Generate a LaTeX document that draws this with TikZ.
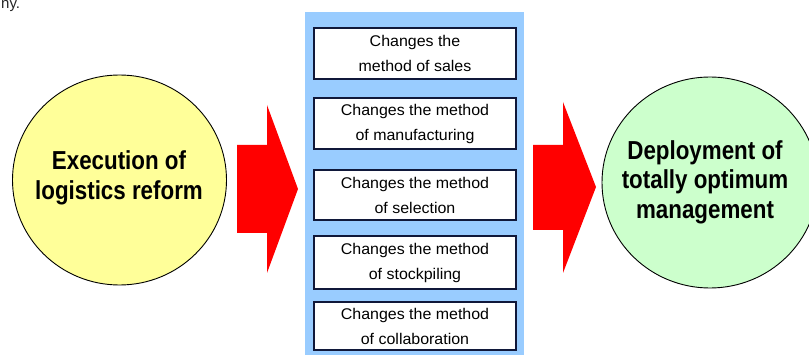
\documentclass[tikz,border=0pt]{standalone}
\usepackage{fontspec}
\setmainfont{Liberation Sans}
\newfontfamily\circfont{Liberation Sans}[FakeStretch=0.86]
\newfontfamily\boxfont{Liberation Sans}[FakeStretch=1.03]
\definecolor{panelblue}{HTML}{99CCFF}
\definecolor{circyellow}{HTML}{FFFF99}
\definecolor{circgreen}{HTML}{CCFFCC}
\definecolor{boxline}{HTML}{10183A}
\definecolor{arrowred}{HTML}{FF0000}
\tikzset{
  circ/.style={ellipse, draw=black, line width=0.9pt, inner sep=0pt, align=center},
  circtext/.style={align=center, inner sep=0pt, font=\circfont\bfseries\fontsize{26}{29.5}\selectfont},
  methodbox/.style={draw=boxline, line width=1.5pt, fill=white, minimum width=202pt,
    inner sep=0pt, align=center, font=\boxfont\fontsize{15.5}{25}\selectfont},
  bigarrow/.style={fill=arrowred, draw=none}
}
\usetikzlibrary{shapes.geometric}
\begin{document}
\begin{tikzpicture}[x=1pt,y=-1pt]
\useasboundingbox (0,0) rectangle (809,358);
\fill[white] (0,0) rectangle (809,358);
% cut-off text at top-left
\node[anchor=base west, inner sep=0pt, font=\fontsize{15}{18}\selectfont, text=black!85] (topfrag) at (1,9) {ny.};
% blue panel
\node[fill=panelblue, draw=none, minimum width=219pt, minimum height=343pt, inner sep=0pt] (panel) at (414.5,183.5) {};
% method boxes
\node[methodbox, minimum height=51pt] (b1) at (415,53.5) {Changes the\\method of sales};
\node[methodbox, minimum height=51pt] (b2) at (415,123.5) {Changes the method\\of manufacturing};
\node[methodbox, minimum height=50pt] (b3) at (415,195) {Changes the method\\of selection};
\node[methodbox, minimum height=53pt] (b4) at (415,262.5) {Changes the method\\of stockpiling};
\node[methodbox, minimum height=48pt] (b5) at (415,326) {Changes the method\\of collaboration};
% circles
\node[circ, fill=circyellow, minimum width=214pt, minimum height=210pt] (exec) at (119.5,180) {};
\node[circtext] (exectext) at (119,178) {Execution of\\logistics reform};
\node[circ, fill=circgreen, minimum width=216pt, minimum height=211pt] (deploy) at (710,182.5) {};
\node[circtext] (deploytext) at (705,182) {Deployment of\\totally optimum\\management};
% red arrows
\fill[bigarrow] (237,145) -- (267,145) -- (267,105) -- (298,189) -- (267,273) -- (267,233) -- (237,233) -- cycle;
\fill[bigarrow] (533,145) -- (563,145) -- (563,102) -- (596,187) -- (563,273) -- (563,230) -- (533,230) -- cycle;
\end{tikzpicture}
\end{document}
